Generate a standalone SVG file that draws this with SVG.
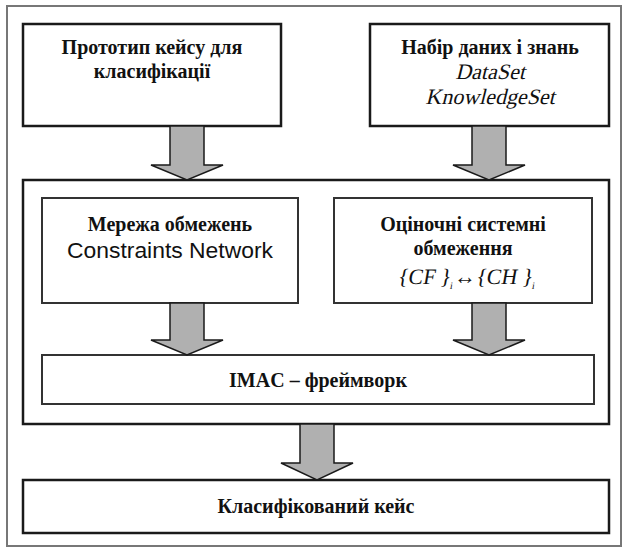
<svg xmlns="http://www.w3.org/2000/svg" width="623" height="547" viewBox="0 0 623 547">
<style>
.box{fill:#fff;stroke:#1a1a1a;stroke-width:2.5}
.ibox{fill:#fff;stroke:#333;stroke-width:2}
.arr{fill:#b0b0b0;stroke:#1a1a1a;stroke-width:1.5;stroke-linejoin:miter}
.b{font-family:"Liberation Serif","Times New Roman",serif;font-weight:bold;font-size:20px;fill:#111;text-anchor:middle}
.i{font-family:"Liberation Serif","Times New Roman",serif;font-size:22px;fill:#111;text-anchor:middle}
.s{font-family:"Liberation Sans",Arial,sans-serif;font-size:22px;fill:#111;text-anchor:middle}
</style>
<rect x="0" y="0" width="623" height="547" fill="#fff"/>
<rect x="7" y="6" width="614" height="540" fill="none" stroke="#777" stroke-width="2"/>
<g id="frame-mid"><rect class="box" x="23" y="180" width="586" height="244"/></g>
<g id="n-prototype">
<rect class="box" x="23" y="24" width="258" height="102"/>
<text class="b" x="152" y="54">Прототип кейсу для</text>
<text class="b" x="152" y="78">класифікації</text>
</g>
<g id="n-dataset">
<rect class="box" x="370" y="24" width="239" height="102"/>
<text class="b" x="490" y="54">Набір даних і знань</text>
<g transform="translate(490,79) skewX(-14)"><text class="i" x="0" y="0">DataSet</text></g>
<g transform="translate(490,104) skewX(-14)"><text class="i" x="0" y="0">KnowledgeSet</text></g>
</g>
<g id="n-constraints">
<rect class="ibox" x="42" y="198" width="256" height="105"/>
<text class="b" x="170" y="231">Мережа обмежень</text>
<text class="s" x="170" y="258" textLength="206" lengthAdjust="spacingAndGlyphs">Constraints Network</text>
</g>
<g id="n-eval">
<rect class="ibox" x="334" y="198" width="258" height="105"/>
<text class="b" x="463" y="231">Оціночні системні</text>
<text class="b" x="463" y="255">обмеження</text>
<g transform="translate(466,284) skewX(-10)"><text class="i" x="0" y="0" font-size="24">{CF }<tspan font-size="10" dy="5">i</tspan><tspan dy="-5">↔{CH }</tspan><tspan font-size="10" dy="5">i</tspan></text></g>
</g>
<g id="n-imac">
<rect class="ibox" x="42" y="355" width="552" height="49"/>
<text class="b" x="318" y="387">IMAC – фреймворк</text>
</g>
<g id="n-result">
<rect class="box" x="23" y="480" width="586" height="53"/>
<text class="b" x="316" y="513">Класифікований кейс</text>
</g>
<g id="connectors">
<polygon class="arr" points="170,126 204,126 204,165 223,165 187,180 151,165 170,165"/>
<polygon class="arr" points="472,126 506,126 506,165 525,165 489,180 453,165 472,165"/>
<polygon class="arr" points="170,303 204,303 204,340 223,340 187,355 151,340 170,340"/>
<polygon class="arr" points="472,303 506,303 506,340 525,340 489,355 453,340 472,340"/>
<polygon class="arr" points="300,424 334,424 334,463 353,463 317,480 281,463 300,463"/>
</g>
</svg>
